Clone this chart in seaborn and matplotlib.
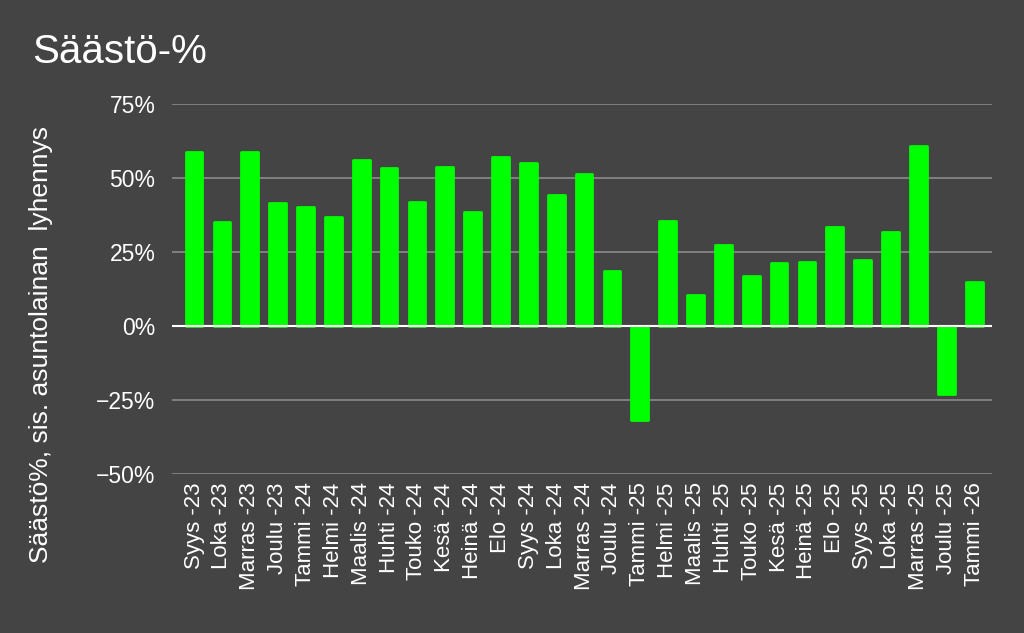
import pandas as pd
import matplotlib
matplotlib.use("Agg")
import matplotlib.pyplot as plt
import seaborn as sns

months = ["Syys -23", "Loka -23", "Marras -23", "Joulu -23", "Tammi -24", "Helmi -24",
          "Maalis -24", "Huhti -24", "Touko -24", "Kesä -24", "Heinä -24", "Elo -24",
          "Syys -24", "Loka -24", "Marras -24", "Joulu -24", "Tammi -25", "Helmi -25",
          "Maalis -25", "Huhti -25", "Touko -25", "Kesä -25", "Heinä -25", "Elo -25",
          "Syys -25", "Loka -25", "Marras -25", "Joulu -25", "Tammi -26"]
saasto = [58.9, 35.0, 58.9, 41.4, 40.3, 36.8, 56.0, 53.2, 42.0, 53.6, 38.5, 57.2,
          54.9, 44.3, 51.4, 18.7, -31.6, 35.6, 10.6, 27.5, 17.0, 21.1, 21.7, 33.4,
          22.3, 31.6, 60.7, -22.8, 14.8]
yticks = [-50, -25, 0, 25, 50, 75]

bg = "#444444"
green = "#00ff00"

df = pd.DataFrame({"kuukausi": months, "saasto": saasto})

sns.set_style("dark")
plt.rcParams["font.family"] = ["Liberation Sans", "DejaVu Sans"]

fig = plt.figure(figsize=(10.24, 6.33), dpi=100, facecolor=bg)
ax = fig.add_axes([0.168, 0.251, 0.801, 0.585], facecolor=bg)

sns.barplot(data=df, x="kuukausi", y="saasto", color=green, width=0.6,
            saturation=1, ax=ax, zorder=3)
for p in ax.patches:
    p.set_edgecolor(green)
    p.set_linewidth(2)
    p.set_joinstyle("round")

ax.set_ylim(-50, 75)
ax.set_xlim(-0.79, len(months) - 0.35)
ax.set_yticks(yticks)
ax.set_yticklabels([f"{v}%".replace("-", "\u2212") for v in yticks])
for v in yticks:
    if v == 0:
        ax.axhline(v, color="white", lw=1.5, zorder=4)
    else:
        ax.axhline(v, color="#8a8a8a", lw=1.2, zorder=1)

ax.tick_params(axis="x", rotation=90, labelsize=16, colors="white", length=0, pad=6)
ax.tick_params(axis="y", labelsize=16.5, colors="white", length=0, pad=12)
for s in ax.spines.values():
    s.set_visible(False)
ax.grid(False)
ax.set_xlabel("")
ax.set_ylabel("Säästö%, sis. asuntolainan  lyhennys", color="white", fontsize=19, labelpad=14)
ax.yaxis.set_label_coords(-0.145, 0.35)

fig.text(0.031, 0.918, "Säästö-%", color="white", fontsize=29, va="center")

fig.savefig("out.png", dpi=100, facecolor=bg)
